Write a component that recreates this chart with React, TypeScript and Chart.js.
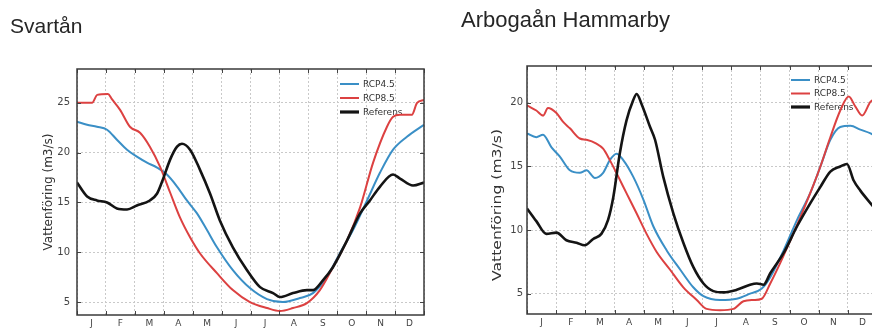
import React, { useEffect, useRef } from "react";
import { Chart, registerables } from "chart.js";

Chart.register(...registerables);

// Month initials on the x axis
const monthLabels = ["J", "F", "M", "A", "M", "J", "J", "A", "S", "O", "N", "D"];
const seriesNames = ["RCP4.5", "RCP8.5", "Referens"];
const yAxisTitle = "Vattenföring (m3/s)";

// ---- Svartån (positions in months from 1 Jan, flow in m3/s) ----
const svRcp45Months = [0, 0.35, 0.69, 1.04, 1.38, 1.73, 2.07, 2.42, 2.77, 3.11, 3.46, 3.8, 4.15, 4.5, 4.84, 5.39, 5.98, 6.57, 7.12, 7.71, 8.16, 8.64, 9.09, 9.54, 10.03, 10.48, 10.93, 11.41, 12];
const svRcp45Flow = [23.1, 22.8, 22.6, 22.3, 21.3, 20.3, 19.6, 19.0, 18.5, 17.8, 16.6, 15.2, 13.9, 12.2, 10.5, 8.2, 6.4, 5.3, 5.0, 5.4, 5.9, 7.5, 9.9, 12.2, 15.2, 18.0, 20.3, 21.6, 22.8];

const svRcp85Months = [0, 0.52, 0.7, 1.07, 1.2, 1.49, 1.83, 2.18, 2.52, 2.87, 3.22, 3.56, 3.91, 4.25, 4.84, 5.39, 5.98, 6.57, 7.02, 7.47, 7.95, 8.4, 8.85, 9.34, 9.79, 10.24, 10.72, 10.93, 11.17, 11.58, 11.76, 12];
const svRcp85Flow = [25.0, 25.0, 25.8, 25.9, 25.4, 24.3, 22.6, 22.0, 20.6, 18.6, 16.0, 13.5, 11.5, 9.9, 7.9, 6.2, 5.0, 4.4, 4.1, 4.4, 4.9, 6.2, 8.5, 11.2, 14.5, 19.0, 22.6, 23.6, 23.8, 23.8, 25.0, 25.3];

const svRefMonths = [0, 0.35, 0.69, 1.04, 1.38, 1.73, 2.07, 2.52, 2.77, 2.97, 3.22, 3.46, 3.63, 3.91, 4.25, 4.6, 4.94, 5.39, 5.88, 6.33, 6.78, 7.02, 7.47, 7.95, 8.16, 8.51, 8.85, 9.34, 9.79, 10.13, 10.48, 10.93, 11.17, 11.62, 12];
const svRefFlow = [17.0, 15.6, 15.2, 15.0, 14.4, 14.3, 14.7, 15.2, 15.9, 17.3, 19.3, 20.6, 20.9, 20.3, 18.3, 15.9, 13.2, 10.5, 8.2, 6.5, 5.9, 5.5, 5.9, 6.2, 6.2, 7.2, 8.5, 11.2, 13.9, 15.2, 16.6, 17.8, 17.4, 16.7, 17.0];

// ---- Arbogaån Hammarby ----
const abRcp45Months = [0, 0.32, 0.55, 0.84, 1.12, 1.47, 1.81, 2.04, 2.33, 2.61, 2.84, 3.07, 3.3, 3.64, 3.99, 4.33, 4.79, 5.25, 5.7, 6.05, 6.62, 7.19, 7.65, 8.05, 8.34, 8.8, 9.26, 9.71, 10.06, 10.4, 10.74, 11.09, 11.43, 11.78, 12];
const abRcp45Flow = [17.6, 17.3, 17.5, 16.5, 15.8, 14.7, 14.5, 14.7, 14.1, 14.5, 15.5, 16.0, 15.5, 14.2, 12.4, 10.3, 8.4, 6.9, 5.5, 4.8, 4.5, 4.6, 5.0, 5.4, 6.3, 8.4, 10.8, 12.9, 15.0, 17.1, 18.1, 18.2, 17.9, 17.6, 17.3];

const abRcp85Months = [0, 0.32, 0.55, 0.72, 1.01, 1.24, 1.47, 1.81, 2.04, 2.38, 2.61, 2.84, 3.13, 3.41, 3.76, 4.1, 4.44, 4.9, 5.36, 5.82, 6.16, 6.62, 7.08, 7.42, 7.77, 8.05, 8.34, 8.68, 9.03, 9.37, 9.71, 10.06, 10.4, 10.74, 11.03, 11.26, 11.49, 11.78, 12];
const abRcp85Flow = [19.8, 19.4, 19.0, 19.6, 19.2, 18.5, 18.0, 17.2, 17.1, 16.8, 16.4, 15.5, 14.2, 12.9, 11.3, 9.7, 8.3, 6.9, 5.5, 4.5, 3.8, 3.7, 3.8, 4.4, 4.5, 4.6, 5.8, 7.4, 9.2, 11.0, 12.9, 15.0, 17.3, 19.4, 20.5, 19.7, 19.0, 20.1, 20.4];

const abRefMonths = [0, 0.32, 0.66, 1.01, 1.35, 1.7, 1.98, 2.27, 2.55, 2.78, 2.96, 3.18, 3.41, 3.64, 3.76, 3.93, 4.22, 4.39, 4.67, 5.02, 5.36, 5.7, 6.05, 6.39, 6.74, 7.19, 7.65, 7.88, 8.11, 8.34, 8.8, 9.26, 9.71, 10.06, 10.4, 10.74, 10.97, 11.2, 11.43, 11.78, 12];
const abRefFlow = [11.7, 10.7, 9.7, 9.8, 9.2, 9.0, 8.8, 9.3, 9.7, 10.8, 12.6, 16.0, 18.6, 20.2, 20.7, 19.9, 18.1, 17.1, 14.2, 11.3, 9.0, 7.1, 5.8, 5.2, 5.1, 5.3, 5.7, 5.8, 5.7, 6.6, 8.2, 10.3, 12.1, 13.4, 14.6, 15.0, 15.2, 13.9, 13.1, 12.1, 11.5];

const svYTicks = [5, 10, 15, 20, 25];
const abYTicks = [5, 10, 15, 20];

const seriesColors = ["#3a8fc6", "#dc4141", "#141414"];
const seriesWidths = [2, 2, 2.6];

type Panel = {
  title: string;
  series: { months: number[]; flow: number[] }[];
  yMin: number;
  yMax: number;
  yTicks: number[];
  canvasLeft: number;
  canvasWidth: number;
  areaLeft: number;
  areaTop: number;
  areaBottom: number;
  padRight: number;
  tickPad: number;
  yTitleX: number;
  yTitleY: number;
  yTitleSize: number;
  yTitleStretch: number;
  legendFromRight: number;
  legendTop: number;
  legendStep: number;
};

const panels: Panel[] = [
  {
    title: "Svartån",
    series: [
      { months: svRcp45Months, flow: svRcp45Flow },
      { months: svRcp85Months, flow: svRcp85Flow },
      { months: svRefMonths, flow: svRefFlow },
    ],
    yMin: 3.7,
    yMax: 28.4,
    yTicks: svYTicks,
    canvasLeft: 0,
    canvasWidth: 436,
    areaLeft: 77,
    areaTop: 69,
    areaBottom: 315,
    padRight: 12,
    tickPad: 7,
    yTitleX: 49,
    yTitleY: 192,
    yTitleSize: 12,
    yTitleStretch: 1,
    legendFromRight: 84,
    legendTop: 15,
    legendStep: 14,
  },
  {
    title: "Arbogaån Hammarby",
    series: [
      { months: abRcp45Months, flow: abRcp45Flow },
      { months: abRcp85Months, flow: abRcp85Flow },
      { months: abRefMonths, flow: abRefFlow },
    ],
    yMin: 3.4,
    yMax: 22.9,
    yTicks: abYTicks,
    canvasLeft: 436,
    canvasWidth: 450,
    areaLeft: 91,
    areaTop: 66,
    areaBottom: 314,
    padRight: 9,
    tickPad: 4,
    yTitleX: 62,
    yTitleY: 205,
    yTitleSize: 12,
    yTitleStretch: 1.3,
    legendFromRight: 86,
    legendTop: 14,
    legendStep: 13.5,
  },
];

// Frame, inward ticks, legend and rotated y title, matplotlib style
function panelDecor(p: Panel) {
  return {
    id: "panelDecor",
    beforeDatasetsDraw(chart: any) {
      const { ctx, chartArea } = chart;
      const x0 = chartArea.right - p.legendFromRight;
      ctx.save();
      ctx.font = "9px 'DejaVu Sans'";
      ctx.textBaseline = "middle";
      ctx.textAlign = "left";
      seriesNames.forEach((name, i) => {
        const y = chartArea.top + p.legendTop + i * p.legendStep;
        ctx.strokeStyle = seriesColors[i];
        ctx.lineWidth = seriesWidths[i] + (i === 2 ? 0.6 : 0);
        ctx.beginPath();
        ctx.moveTo(x0, y);
        ctx.lineTo(x0 + 19, y);
        ctx.stroke();
        ctx.fillStyle = "#333";
        ctx.fillText(name, x0 + 23, y + 0.5);
      });
      ctx.restore();
    },
    afterDraw(chart: any) {
      const { ctx, chartArea } = chart;
      const xd = chart.scales.xd;
      const y = chart.scales.y;
      ctx.save();
      ctx.strokeStyle = "#444";
      ctx.lineWidth = 1;
      for (let m = 0; m <= 12; m++) {
        const px = Math.round(xd.getPixelForValue(m)) + 0.5;
        ctx.beginPath();
        ctx.moveTo(px, chartArea.bottom);
        ctx.lineTo(px, chartArea.bottom - 4);
        ctx.moveTo(px, chartArea.top);
        ctx.lineTo(px, chartArea.top + 4);
        ctx.stroke();
      }
      p.yTicks.forEach((v) => {
        const py = Math.round(y.getPixelForValue(v)) + 0.5;
        ctx.beginPath();
        ctx.moveTo(chartArea.left, py);
        ctx.lineTo(chartArea.left + 4, py);
        ctx.moveTo(chartArea.right, py);
        ctx.lineTo(chartArea.right - 4, py);
        ctx.stroke();
      });
      ctx.strokeStyle = "#3a3a3a";
      ctx.lineWidth = 1.5;
      ctx.strokeRect(chartArea.left, chartArea.top, chartArea.right - chartArea.left, chartArea.bottom - chartArea.top);

      ctx.translate(p.yTitleX, p.yTitleY);
      ctx.rotate(-Math.PI / 2);
      ctx.scale(p.yTitleStretch, 1);
      ctx.font = `${p.yTitleSize}px 'DejaVu Sans'`;
      ctx.fillStyle = "#333";
      ctx.textAlign = "center";
      ctx.textBaseline = "middle";
      ctx.fillText(yAxisTitle, 0, 0);
      ctx.restore();
    },
  };
}

function buildConfig(p: Panel): any {
  const height = 332;
  return {
    type: "line",
    data: {
      labels: monthLabels,
      datasets: p.series.map((s, i) => ({
        label: seriesNames[i],
        data: s.months.map((m, k) => ({ x: m, y: s.flow[k] })),
        xAxisID: "xd",
        yAxisID: "y",
        borderColor: seriesColors[i],
        borderWidth: seriesWidths[i],
        pointRadius: 0,
        fill: false,
        cubicInterpolationMode: "monotone",
        order: 3 - i,
      })),
    },
    options: {
      animation: false,
      responsive: false,
      maintainAspectRatio: false,
      events: [],
      layout: { padding: { top: p.areaTop, right: p.padRight, left: 0, bottom: 0 } },
      plugins: { legend: { display: false }, tooltip: { enabled: false } },
      scales: {
        x: {
          type: "category",
          position: "bottom",
          offset: true,
          grid: { offset: true, color: "#c9c9c9", lineWidth: 1, drawTicks: false },
          border: { display: false, dash: [2, 2] },
          ticks: { color: "#444", padding: 3, font: { family: "'DejaVu Sans'", size: 9 }, maxRotation: 0, autoSkip: false },
          afterFit(scale: any) {
            scale.height = height - p.areaBottom;
          },
        },
        xd: { type: "linear", display: false, min: 0, max: 12 },
        y: {
          type: "linear",
          position: "left",
          min: p.yMin,
          max: p.yMax,
          grid: { color: "#c9c9c9", lineWidth: 1, drawTicks: false },
          border: { display: false, dash: [2, 2] },
          ticks: { color: "#444", padding: p.tickPad, font: { family: "'DejaVu Sans'", size: 10 } },
          afterBuildTicks(scale: any) {
            scale.ticks = p.yTicks.map((v) => ({ value: v }));
          },
          afterFit(scale: any) {
            scale.width = p.areaLeft;
          },
        },
      },
    },
    plugins: [panelDecor(p)],
  };
}

function FlowPanel({ p }: { p: Panel }) {
  const ref = useRef<HTMLCanvasElement | null>(null);
  useEffect(() => {
    if (!ref.current) return;
    const chart = new Chart(ref.current, buildConfig(p));
    return () => chart.destroy();
  }, [p]);
  return (
    <canvas
      ref={ref}
      width={p.canvasWidth}
      height={332}
      style={{ position: "absolute", left: p.canvasLeft, top: 0, width: p.canvasWidth, height: 332 }}
    />
  );
}

const titleStyle: React.CSSProperties = {
  position: "absolute",
  fontFamily: "'Liberation Sans', Arial, sans-serif",
  color: "#262626",
  lineHeight: 1,
  whiteSpace: "nowrap",
};

export default function App() {
  return (
    <div
      style={{
        position: "fixed",
        left: 0,
        top: 0,
        width: 872,
        height: 332,
        overflow: "hidden",
        background: "#fff",
      }}
    >
      <FlowPanel p={panels[0]} />
      <FlowPanel p={panels[1]} />
      <div style={{ ...titleStyle, left: 10, top: 15, fontSize: 21 }}>{panels[0].title}</div>
      <div style={{ ...titleStyle, left: 461, top: 9, fontSize: 22 }}>{panels[1].title}</div>
    </div>
  );
}
